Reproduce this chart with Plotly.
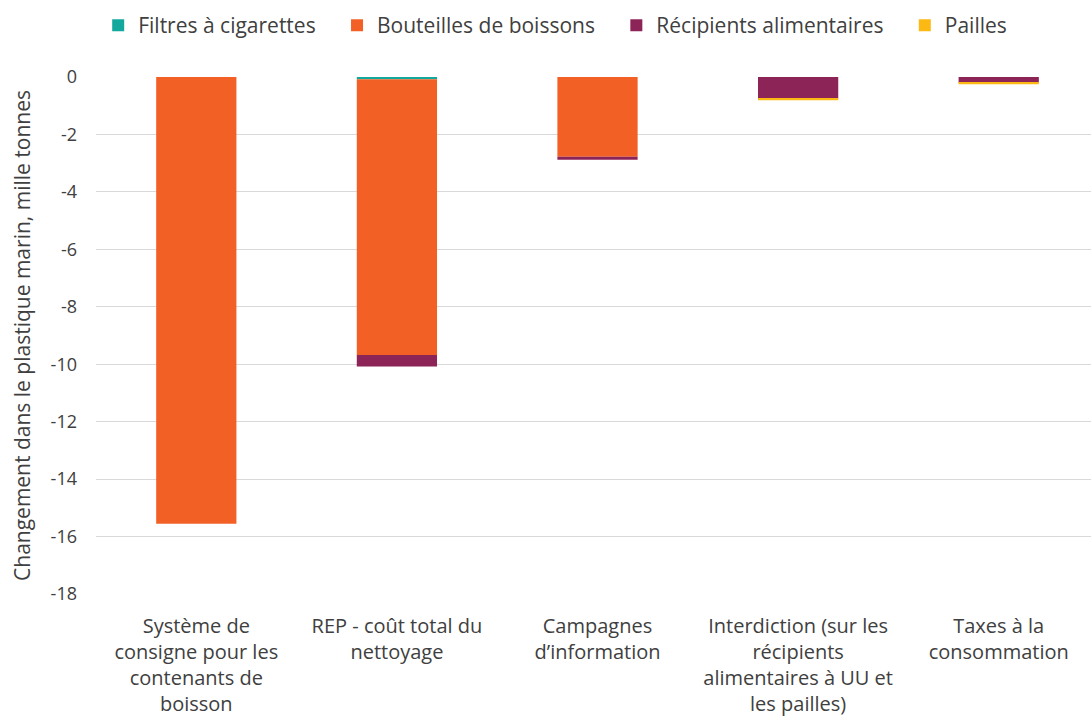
import plotly.graph_objects as go

categories = [
    "Système de<br>consigne pour les<br>contenants de<br>boisson",
    "REP - coût total du<br>nettoyage",
    "Campagnes<br>d’information",
    "Interdiction (sur les<br>récipients<br>alimentaires à UU et<br>les pailles)",
    "Taxes à la<br>consommation",
]
filtres = [0.0, -0.08, 0.0, 0.0, 0.0]
bouteilles = [-15.55, -9.6, -2.78, 0.0, 0.0]
recipients = [0.0, -0.4, -0.1, -0.76, -0.2]
pailles = [0.0, 0.0, 0.0, -0.05, -0.05]

series = [
    ("Filtres à cigarettes", filtres, "#13A89E"),
    ("Bouteilles de boissons", bouteilles, "#F26026"),
    ("Récipients alimentaires", recipients, "#8C2457"),
    ("Pailles", pailles, "#FDB913"),
]
y_ticks = [0, -2, -4, -6, -8, -10, -12, -14, -16, -18]

fig = go.Figure()
for i, (name, vals, col) in enumerate(series):
    label = name + ("\u00a0" * 3 if i < len(series) - 1 else "")
    fig.add_trace(go.Bar(
        x=list(range(len(categories))), y=vals, name=label,
        marker=dict(color=col, line=dict(width=0)),
        width=0.4,
    ))

font_family = "Open Sans, Noto Sans, sans-serif"
fig.update_layout(
    barmode="relative",
    width=1091, height=722,
    margin=dict(l=96, r=0, t=77, b=128),
    paper_bgcolor="white", plot_bgcolor="white",
    font=dict(family=font_family, size=20, color="#404040"),
    legend=dict(orientation="h", x=0.09, xref="container", xanchor="left",
                y=0.993, yref="container", yanchor="top",
                font=dict(size=21, color="#404040"),
                itemsizing="constant", traceorder="normal", itemwidth=30),
    showlegend=True,
    xaxis=dict(
        tickmode="array", tickvals=list(range(len(categories))), ticktext=categories,
        range=[-0.5, 4.46], showgrid=False, zeroline=False, showline=False,
        tickfont=dict(size=20, color="#404040"), ticks="", ticklabelstandoff=18,
    ),
    yaxis=dict(
        range=[-18, 0], tickmode="array", tickvals=y_ticks,
        ticktext=[str(v) for v in y_ticks],
        showgrid=True, gridcolor="#d9d9d9", gridwidth=1, zeroline=False,
        showline=False, ticks="", tickfont=dict(size=18, color="#404040"),
        title=dict(text="Changement dans le plastique marin, mille tonnes",
                   font=dict(size=21, color="#404040"), standoff=14),
        ticklabelstandoff=18,
    ),
)
fig.write_html("out.html")
